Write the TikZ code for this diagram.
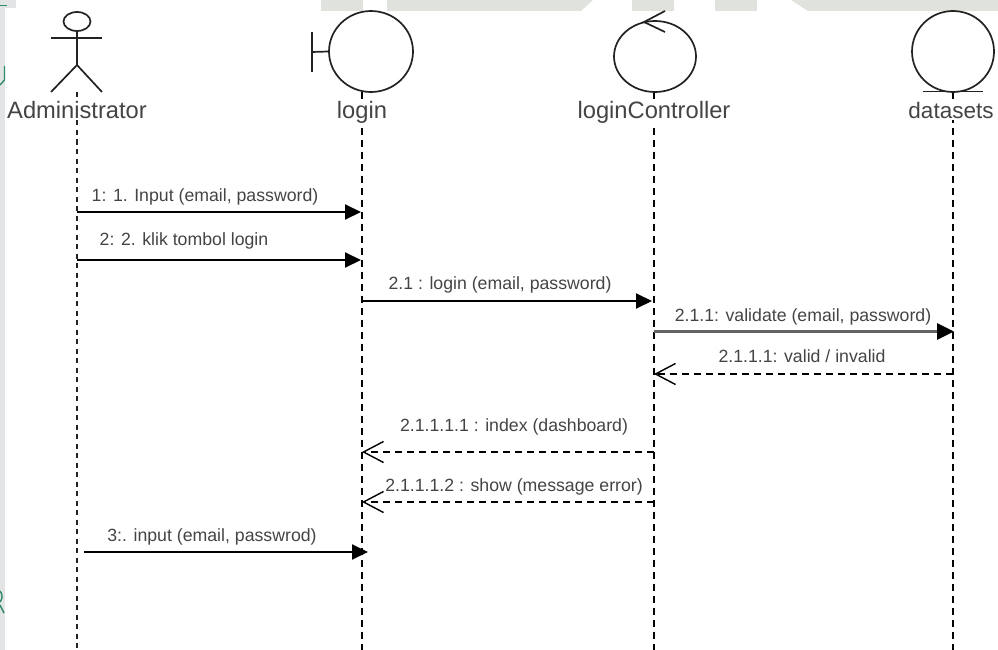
\documentclass[tikz,border=0pt]{standalone}
\usepackage{fontspec}
\setmainfont{Liberation Sans}
\usetikzlibrary{arrows.meta,shapes.geometric}
\definecolor{ink}{HTML}{222222}
\definecolor{txt}{HTML}{444444}
\definecolor{wmgrey}{HTML}{E0E2DD}
\definecolor{wmside}{HTML}{E2E4E6}
\definecolor{wmgreen}{HTML}{2E8B66}
\tikzset{
  headshape/.style={draw=ink,line width=1.7pt,ellipse,inner sep=0pt},
  sym/.style={draw=ink,line width=1.7pt},
  lifeline/.style={draw=black,line width=1.5pt,dash pattern=on 7pt off 5pt},
  lifedense/.style={draw=ink,line width=2pt,dash pattern=on 5pt off 4.5pt},
  namelabel/.style={fill=white,text=txt,font=\fontsize{23.7}{26}\selectfont,anchor=base,inner xsep=0pt,inner ysep=2pt},
  msglabel/.style={text=txt,font=\fontsize{17.7}{20}\selectfont,anchor=base,inner sep=0pt},
  call/.style={draw=black,line width=1.9pt,-{Triangle[length=16pt,width=15pt]}},
  callheavy/.style={draw=ink!70,line width=3pt,-{Triangle[length=17pt,width=16pt,color=black]}},
  reply/.style={draw=black,line width=1.4pt,dash pattern=on 7pt off 5pt,-{Straight Barb[length=20pt,width=21pt,line width=1.4pt]}},
  wm/.style={fill=wmgrey,draw=none},
  wmmark/.style={draw=wmgreen,line width=1.4pt}
}
\begin{document}
\begin{tikzpicture}[x=1pt,y=-1pt]
\useasboundingbox (0,0) rectangle (998,650);
% backdrop fragments
\fill[wmside] (0,0) rectangle (5,650);
\fill[wmside] (0,0) rectangle (16,8);
\fill[wm] (321,0) rectangle (363,11);
\fill[wm] (387,0) -- (593,0) -- (581,11) -- (387,11) -- cycle;
\fill[wm] (632,0) rectangle (674,11);
\fill[wm] (715,0) rectangle (757,11);
\fill[wm] (791,0) -- (998,0) -- (998,11) -- (808,11) -- cycle;
\draw[wmmark] (0,5.5) -- (7,5.5);
\draw[wmmark] (4.5,66) -- (4.5,80) -- (0,85);
\draw[wmmark] (0,591) to[bend left=40] (0,602);
\draw[wmmark] (0,605) -- (4,613);
% lifeline ends
\coordinate (aTop) at (77,92);   \coordinate (aEnd) at (77,650);
\coordinate (bTop) at (362,92);  \coordinate (bEnd) at (362,650);
\coordinate (cTop) at (654,92);  \coordinate (cEnd) at (654,650);
\coordinate (dTop) at (953,92);  \coordinate (dEnd) at (953,650);
\draw[lifedense] (aTop) -- (aEnd);
\draw[lifeline] (bTop) -- (bEnd);
\draw[lifeline] (cTop) -- (cEnd);
\draw[lifeline] (dTop) -- (dEnd);
% actor
\node[headshape,minimum width=27pt,minimum height=19pt] (actorHead) at (77,21.5) {};
\coordinate (actorHip) at (77,65);
\coordinate (armL) at (51,38); \coordinate (armR) at (102,38);
\coordinate (legL) at (51,92); \coordinate (legR) at (102,92);
\draw[sym] (actorHead.south) -- (actorHip);
\draw[sym] (armL) -- (armR);
\draw[sym] (legL) -- (actorHip) -- (legR);
% boundary
\node[headshape,minimum width=84pt,minimum height=81pt] (loginHead) at (371,51.5) {};
\coordinate (barTop) at (312,32); \coordinate (barBot) at (312,72); \coordinate (barMid) at (312,52);
\draw[sym] (barTop) -- (barBot);
\draw[sym] (barMid) -- (loginHead.west);
% control
\node[headshape,minimum width=82pt,minimum height=71pt] (ctrlHead) at (655,56.5) {};
\coordinate (ctrlTip) at (644,22); \coordinate (ctrlUp) at (665,11); \coordinate (ctrlDn) at (665,32);
\draw[sym] (ctrlUp) -- (ctrlTip) -- (ctrlDn);
% entity
\node[headshape,minimum width=82pt,minimum height=81pt] (dataHead) at (953,51.5) {};
\coordinate (dataL) at (923,91.5); \coordinate (dataR) at (983,91.5);
\draw[sym] (dataL) -- (dataR);
% names
\node[namelabel] (adminName) at (77,118) {Administrator};
\node[namelabel] (loginName) at (362,118) {login};
\node[namelabel] (ctrlName) at (654,118) {loginController};
\node[namelabel,font=\fontsize{22.5}{26}\selectfont] (dataName) at (951,118) {datasets};
% message ends
\coordinate (m1a) at (77,212);  \coordinate (m1b) at (361,212);
\coordinate (m2a) at (77,260);  \coordinate (m2b) at (361,260);
\coordinate (m3a) at (362,301); \coordinate (m3b) at (652,301);
\coordinate (m4a) at (654,331.5); \coordinate (m4b) at (954,331.5);
\coordinate (m5a) at (953,374); \coordinate (m5b) at (654,374);
\coordinate (m6a) at (654,452); \coordinate (m6b) at (362,452);
\coordinate (m7a) at (654,502); \coordinate (m7b) at (362,502);
\coordinate (m8a) at (84,552);  \coordinate (m8b) at (368,552);
\draw[call] (m1a) -- (m1b);
\draw[call] (m2a) -- (m2b);
\draw[call] (m3a) -- (m3b);
\draw[callheavy] (m4a) -- (m4b);
\draw[reply] (m5a) -- (m5b);
\draw[reply] (m6a) -- (m6b);
\draw[reply] (m7a) -- (m7b);
\draw[call] (m8a) -- (m8b);
% message labels
\node[msglabel] (l1) at (205,201.5) {1: 1. Input (email, password)};
\node[msglabel] (l2) at (184,245) {2: 2. klik tombol login};
\node[msglabel] (l3) at (500,289) {2.1 : login (email, password)};
\node[msglabel] (l4) at (803,321.5) {2.1.1: validate (email, password)};
\node[msglabel] (l5) at (802,362.5) {2.1.1.1: valid / invalid};
\node[msglabel] (l6) at (514,431.5) {2.1.1.1.1 : index (dashboard)};
\node[msglabel] (l7) at (514,491.5) {2.1.1.1.2 : show (message error)};
\node[msglabel] (l8) at (212,541.5) {3:. input (email, passwrod)};
\end{tikzpicture}
\end{document}
